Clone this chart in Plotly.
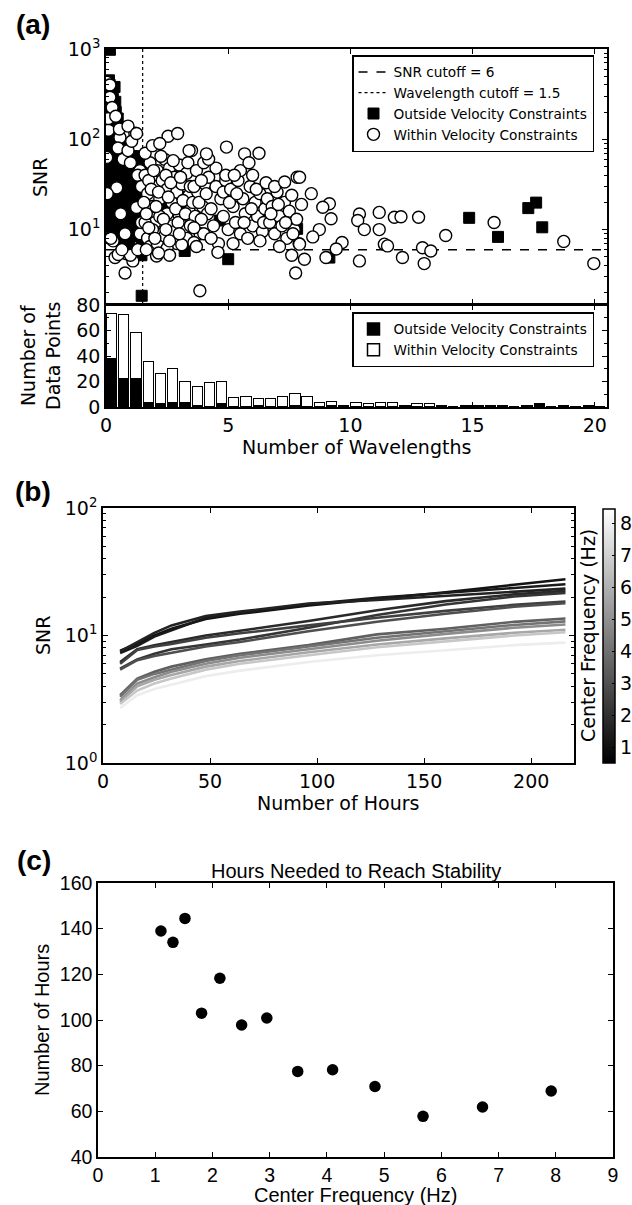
import plotly.graph_objects as go
from plotly.colors import sample_colorscale

# ---------------- Panel (a): scatter data ----------------
within_x = [
    # x < 1.5
    0.03, 0.16, 0.16, 0.10, 0.57, 0.49, 1.39, 0.44, 0.78, 0.29, 0.37, 0.78, 0.84, 1.10, 1.25,
    1.18, 0.03, 0.10, 0.25, 0.70, 0.90, 1.00, 1.30, 1.40, 0.55, 0.40, 1.05, 0.90, 1.25, 0.05,
    0.60, 1.45, 1.45, 0.50, 1.00, 1.30, 0.65, 0.20,
    # 1.5 - 3.5
    1.60, 1.70, 1.80, 1.90, 2.00, 2.00, 2.10, 2.20, 2.30, 2.30, 2.40, 2.50, 2.50, 2.60, 2.70,
    2.70, 2.80, 2.90, 2.90, 3.00, 3.00, 3.10, 3.20, 3.30, 3.40, 3.40, 3.50, 1.70, 1.80, 2.10,
    2.50, 2.60, 1.90, 2.20, 1.60, 2.40, 3.30, 3.50, 2.80, 2.54, 2.93, 3.40, 2.07, 3.84,
    1.55, 1.65, 1.75, 1.85, 1.95, 2.05, 2.15, 2.25, 2.35, 2.45, 2.55, 2.65, 2.75, 2.85, 2.95,
    3.05, 3.15, 3.25, 3.35, 3.45, 3.55, 3.65, 3.75, 3.85, 3.95, 4.05, 4.15, 1.60, 1.90, 2.20,
    2.00, 2.60, 3.10, 3.60, 1.75, 2.45, 3.00, 1.65, 2.15, 3.45,
    # 3.5 - 5
    3.60, 3.70, 3.80, 3.90, 4.00, 4.00, 4.10, 4.20, 4.30, 4.40, 4.50, 4.50, 4.60, 4.70, 4.80,
    4.90, 5.00, 4.90, 3.70, 4.30, 3.60, 4.80, 4.20, 3.90, 4.11, 4.93, 4.58,
    # 5 - 6.5
    5.10, 5.20, 5.30, 5.40, 5.50, 5.60, 5.70, 5.80, 5.90, 6.00, 6.10, 6.20, 6.30, 6.40, 6.50,
    5.50, 6.00, 5.20, 6.30, 5.67, 6.26, 5.05, 5.35, 5.65, 5.95, 6.15, 6.45, 5.25, 5.85, 6.55,
    # 6.5 - 8
    6.60, 6.70, 6.80, 6.90, 7.00, 7.10, 7.20, 7.30, 7.40, 7.50, 7.60, 7.70, 7.80, 7.90, 8.00,
    7.10, 6.90, 7.60, 7.31, 7.82, 7.76, 6.75, 7.05, 7.35, 7.65,
    # > 8
    7.92, 8.40, 9.14, 8.87, 9.21, 8.73, 8.46, 7.92, 8.12, 9.00, 9.66, 9.42, 10.37, 10.30, 10.57,
    11.18, 11.18, 11.39, 11.52, 10.37, 11.80, 12.07, 12.13, 12.79, 12.95, 13.29, 13.02, 13.90,
    15.88, 18.73, 19.96,
]
within_y = [
    430, 400, 292, 126, 105, 80, 45, 29, 9, 7.5, 4.9, 3.3, 5.4, 4.5, 17.6,
    117, 63, 170, 225, 60, 75, 55, 40, 9, 130, 180, 95, 140, 116, 25,
    15, 30, 12, 5.3, 5.2, 6, 6, 8,
    40, 25, 55, 18, 30, 12, 45, 22, 9, 35, 60, 15, 28, 48, 11,
    20, 38, 7, 26, 14, 52, 32, 10, 42, 24, 16, 75, 8, 6.5, 7,
    6.2, 5.2, 10, 14, 12, 8.5, 8, 12, 9.5, 108, 116, 75, 5.1, 2.1,
    20, 15, 35, 28, 45, 18, 26, 65, 13, 40, 23, 33, 58, 17, 12,
    38, 21, 15, 55, 30, 20, 14, 26, 9, 18, 32, 15, 70, 85, 90,
    8, 7.5, 6.8, 7.2, 10.5, 10, 9, 6, 5.5, 11,
    30, 45, 20, 13, 55, 9, 25, 38, 17, 11, 30, 48, 7, 22, 14,
    35, 10, 40, 6.5, 8, 10.5, 26, 60, 35, 69, 82, 5.6,
    28, 18, 12, 35, 9, 22, 15, 8, 30, 11, 20, 14, 25, 9.5, 17,
    45, 40, 7, 7.5, 69, 70, 20, 25, 12, 17, 28, 12, 40, 55, 33,
    22, 12, 18, 9, 26, 14, 11, 20, 8, 16, 24, 10, 13, 7, 19,
    6.5, 30, 5.2, 33.6, 38, 3.3, 15, 19, 12, 9,
    38, 25, 19.3, 17.7, 13.2, 10, 8.3, 6.9, 4.7, 4.9, 7.2, 6.1, 14.9, 12.6, 10,
    15.5, 10, 6.9, 6.6, 4.5, 13.7, 13.9, 4.9, 13.7, 6.3, 5.8, 4.2, 8.6,
    12, 7.4, 4.2,
]

outside_x = [
    0.16, 0.05, 0.15, 0.25, 0.35, 0.10, 0.20, 0.30, 0.40, 0.05, 0.15, 0.25, 0.35, 0.45, 0.05,
    0.15, 0.25, 0.35, 0.45, 0.55, 0.05, 0.15, 0.25, 0.35, 0.45, 0.55, 0.05, 0.15, 0.25, 0.35,
    0.50, 0.60, 0.65, 0.70, 0.75, 0.80, 0.85, 0.90, 0.95, 1.00, 1.05, 1.10, 1.14, 1.20, 1.25,
    1.30, 1.39, 1.39, 1.49, 1.49, 1.46, 1.46, 0.95, 0.68, 1.46, 1.10, 0.90, 1.40, 1.35,
    0.05, 0.05, 0.05, 0.05, 0.05, 0.12, 0.12, 0.12, 0.12, 0.12, 0.12,
    0.20, 0.20, 0.20, 0.20, 0.20, 0.28, 0.28, 0.28, 0.28, 0.28,
    0.38, 0.38, 0.38, 0.38, 0.38, 0.48, 0.48, 0.48, 0.48, 0.48, 0.58, 0.58, 0.58, 0.58,
    0.65, 0.65, 0.65, 0.65, 0.75, 0.75, 0.75, 0.75, 0.85, 0.85, 0.85, 0.85,
    0.95, 0.95, 0.95, 0.95, 1.05, 1.05, 1.05, 1.05, 1.15, 1.15, 1.15, 1.15,
    1.25, 1.25, 1.25, 1.25, 1.35, 1.35, 1.35, 1.35, 1.45, 1.45, 1.45, 1.45,
    3.22, 5.00, 4.65, 6.29, 7.82, 3.09, 2.97, 2.48, 2.70, 3.30, 9.14, 14.86, 16.04, 17.28,
    17.60, 17.85,
]
outside_y = [
    980, 420, 400, 350, 380, 300, 270, 230, 200, 180, 150, 130, 110, 100, 80,
    70, 60, 50, 45, 40, 35, 30, 25, 20, 16, 13, 15, 11, 9, 8,
    10, 25, 55, 35, 18, 45, 28, 12, 40, 22, 15, 50, 48, 60, 30,
    65, 58, 30, 22, 13, 9, 7, 20, 36, 1.85, 10, 8, 17, 40,
    250, 120, 55, 22, 11, 450, 320, 210, 95, 42, 19,
    380, 160, 85, 38, 14, 280, 190, 75, 33, 12,
    260, 140, 65, 28, 11, 170, 120, 55, 24, 9.5, 90, 30, 20, 12,
    70, 16, 10, 7, 60, 25, 12, 8, 50, 35, 18, 9,
    45, 28, 13, 6.5, 65, 38, 20, 11, 42, 26, 14, 8.5,
    55, 18, 12, 6, 48, 25, 10, 5.5, 42, 16, 11, 5.2,
    5.8, 4.7, 12.6, 13.1, 10.2, 21.9, 19.5, 18.5, 16, 23, 4.9, 13.5, 8.3, 17.3,
    19.9, 10.6,
]

SNR_CUTOFF = 6
WAVELENGTH_CUTOFF = 1.5

# ---------------- Panel (a): histogram data (bins of 0.5 wavelengths) ----------------
hist_outside = [38, 22, 22, 3, 2, 3, 3, 1, 0, 2,
                0, 0, 1, 0, 0, 1, 0, 0, 1, 0,
                0, 0, 0, 0, 0, 0, 0, 0, 0, 1,
                0, 0, 1, 0, 1, 2, 0, 0, 0, 0, 0]
hist_within = [35, 50, 36, 32, 24, 27, 17, 15, 19, 18,
               7, 8, 5, 6, 8, 9, 8, 3, 3, 1,
               3, 2, 3, 3, 1, 2, 2, 1, 0, 0,
               1, 1, 0, 0, 0, 0, 0, 1, 0, 1, 0]
BIN_W = 0.5
bin_centers = [BIN_W * i + BIN_W / 2 for i in range(len(hist_within))]

# ---------------- Panel (b): SNR vs hours ----------------
hours = [8, 16, 24, 32, 48, 64, 96, 128, 160, 192, 216]
line_freqs = [1.1, 1.3, 1.55, 1.8, 2.15, 2.5, 2.95, 3.5, 4.1, 4.85, 5.7, 6.7, 7.9]
snr_lines = [
    [7.6, 8.6, 10.0, 11.3, 13.5, 14.8, 17.2, 19.3, 21.8, 25.0, 27.6],
    [7.3, 8.3, 9.8, 11.0, 13.8, 15.0, 17.6, 19.8, 21.5, 23.6, 25.2],
    [7.5, 8.9, 10.5, 12.0, 14.2, 15.4, 17.8, 19.0, 20.4, 22.2, 23.3],
    [6.2, 7.8, 8.4, 8.9, 10.0, 10.9, 13.0, 15.8, 18.6, 21.0, 22.4],
    [5.5, 6.5, 7.2, 7.8, 8.5, 9.3, 11.5, 14.5, 17.5, 20.2, 21.6],
    [6.0, 7.7, 8.2, 8.6, 9.6, 10.4, 12.0, 13.8, 15.6, 17.4, 18.5],
    [5.4, 6.4, 6.9, 7.3, 8.2, 8.9, 10.8, 12.8, 14.8, 16.8, 17.9],
    [3.4, 4.6, 5.2, 5.7, 6.5, 7.2, 8.4, 10.2, 11.3, 12.8, 13.6],
    [3.3, 4.5, 5.0, 5.4, 6.3, 7.0, 8.2, 9.6, 10.8, 12.1, 12.9],
    [3.1, 4.2, 4.7, 5.2, 6.0, 6.7, 7.8, 9.1, 10.3, 11.5, 12.2],
    [3.0, 4.0, 4.5, 4.9, 5.7, 6.3, 7.4, 8.5, 9.5, 10.5, 11.1],
    [2.9, 3.7, 4.2, 4.6, 5.4, 6.0, 7.0, 8.1, 9.0, 10.0, 10.6],
    [2.7, 3.4, 3.8, 4.1, 4.8, 5.3, 6.2, 7.0, 7.7, 8.4, 8.8],
]
CMIN, CMAX = 0.5, 8.45
colorbar_ticks = [1, 2, 3, 4, 5, 6, 7, 8]

# ---------------- Panel (c): hours to stability ----------------
center_freq = [1.1, 1.31, 1.52, 1.81, 2.13, 2.51, 2.95, 3.49, 4.1, 4.84, 5.68, 6.72, 7.92]
hours_needed = [139, 134, 144.5, 103, 118.3, 97.8, 100.9, 77.5, 78.2, 70.9, 57.8, 61.9, 68.9]

# ---------------- figure ----------------
W, H = 632, 1205
def dx(px):
    return px / W
def dy(py):
    return 1 - py / H

DV = "DejaVu Sans"
AR = "Liberation Sans, Arial"
FS = 19      # tick / axis text size, panels a-b
FSC = 19.5   # panel c text size
LFS = 13.7   # legend text size
gray_scale = [[0, "rgb(0,0,0)"], [1, "rgb(255,255,255)"]]

fig = go.Figure()

# panel a scatter
fig.add_trace(go.Scatter(x=[0, 20.5], y=[SNR_CUTOFF, SNR_CUTOFF], mode="lines",
                         line=dict(color="black", dash="dash", width=1.5),
                         name="SNR cutoff = 6", xaxis="x", yaxis="y", legend="legend"))
fig.add_trace(go.Scatter(x=[WAVELENGTH_CUTOFF, WAVELENGTH_CUTOFF], y=[1.5, 1000], mode="lines",
                         line=dict(color="black", dash="dot", width=1.2),
                         name="Wavelength cutoff = 1.5", xaxis="x", yaxis="y", legend="legend"))
fig.add_trace(go.Scatter(x=outside_x, y=outside_y, mode="markers",
                         marker=dict(symbol="square", size=11, color="black",
                                     line=dict(color="black", width=1)),
                         name="Outside Velocity Constraints", xaxis="x", yaxis="y", legend="legend"))
fig.add_trace(go.Scatter(x=within_x, y=within_y, mode="markers",
                         marker=dict(symbol="circle", size=12, color="white",
                                     line=dict(color="black", width=1.4)),
                         name="Within Velocity Constraints", xaxis="x", yaxis="y", legend="legend"))

# panel a histogram
fig.add_trace(go.Bar(x=bin_centers, y=hist_outside, width=0.42,
                     marker=dict(color="black", line=dict(color="black", width=1.5)),
                     name="Outside Velocity Constraints", xaxis="x2", yaxis="y2", legend="legend2"))
fig.add_trace(go.Bar(x=bin_centers, y=hist_within, width=0.42,
                     marker=dict(color="white", line=dict(color="black", width=1.5)),
                     name="Within Velocity Constraints", xaxis="x2", yaxis="y2", legend="legend2"))

# panel b lines
line_colors = sample_colorscale(gray_scale, [(f - CMIN) / (CMAX - CMIN) for f in line_freqs])
for f, vals, c in zip(line_freqs, snr_lines, line_colors):
    fig.add_trace(go.Scatter(x=hours, y=vals, mode="lines", line=dict(color=c, width=2.6),
                             showlegend=False, xaxis="x3", yaxis="y3", name=f"{f} Hz"))
fig.add_trace(go.Scatter(x=[hours[0]] * len(line_freqs), y=[snr_lines[-1][0]] * len(line_freqs),
                         mode="markers", showlegend=False, hoverinfo="skip",
                         marker=dict(color=line_freqs, colorscale=gray_scale, cmin=CMIN, cmax=CMAX,
                                     opacity=0, size=1, showscale=True,
                                     colorbar=dict(x=dx(603), xanchor="left", xpad=0,
                                                   y=dy(763), yanchor="bottom", ypad=0,
                                                   len=254 / H, lenmode="fraction",
                                                   thickness=12, thicknessmode="pixels",
                                                   outlinewidth=1.5, outlinecolor="black",
                                                   tickvals=colorbar_ticks, ticks="inside",
                                                   ticklen=3, tickcolor="black",
                                                   ticklabeloverflow="allow",
                                                   tickfont=dict(family=DV, size=FS, color="black"))),
                         xaxis="x3", yaxis="y3"))

# panel c scatter
fig.add_trace(go.Scatter(x=center_freq, y=hours_needed, mode="markers",
                         marker=dict(size=11.5, color="black"), showlegend=False,
                         xaxis="x4", yaxis="y4"))

axis_common = dict(showline=True, linecolor="black", linewidth=1.5, mirror="ticks",
                   ticks="inside", ticklen=5, tickcolor="black", tickwidth=1,
                   showgrid=False, zeroline=False, automargin=False)
minor_log_a = [m * 10 ** e for e in range(0, 3) for m in range(2, 10)]
minor_log_b = [m * 10 ** e for e in range(0, 2) for m in range(2, 10)]

fig.update_layout(
    width=W, height=H, margin=dict(l=0, r=0, t=0, b=0, autoexpand=False),
    paper_bgcolor="white", plot_bgcolor="white",
    font=dict(family=DV, size=FS, color="black"),
    barmode="stack", bargap=0,
    xaxis=dict(domain=[dx(106), dx(607)], anchor="y", range=[0, 20.5],
               tickvals=[0, 5, 10, 15, 20], showticklabels=False, **axis_common),
    yaxis=dict(domain=[dy(304), dy(49)], anchor="x", type="log", range=[0.176, 3],
               tickvals=[1, 10, 100, 1000],
               ticktext=["10<sup>0</sup>", "10<sup>1</sup>", "10<sup>2</sup>", "10<sup>3</sup>"],
               tickfont=dict(family=DV, size=FS),
               minor=dict(tickvals=minor_log_a, ticks="inside", ticklen=3, tickcolor="black"),
               **axis_common),
    xaxis2=dict(domain=[dx(106), dx(607)], anchor="y2", range=[0, 20.5],
                tickvals=[0, 5, 10, 15, 20], tickfont=dict(family=DV, size=FS), **axis_common),
    yaxis2=dict(domain=[dy(407), dy(305)], anchor="x2", range=[0, 80],
                tickvals=[0, 20, 40, 60, 80], tickfont=dict(family=DV, size=FS),
                minor=dict(dtick=10, ticks="inside", ticklen=3, tickcolor="black"),
                **axis_common),
    xaxis3=dict(domain=[dx(103), dx(574)], anchor="y3", range=[0, 220],
                tickvals=[0, 50, 100, 150, 200], tickfont=dict(family=DV, size=FS), **axis_common),
    yaxis3=dict(domain=[dy(763), dy(508)], anchor="x3", type="log", range=[0, 2],
                tickvals=[1, 10, 100],
                ticktext=["10<sup>0</sup>", "10<sup>1</sup>", "10<sup>2</sup>"],
                tickfont=dict(family=DV, size=FS),
                minor=dict(tickvals=minor_log_b, ticks="inside", ticklen=3, tickcolor="black"),
                **axis_common),
    xaxis4=dict(domain=[dx(98), dx(613)], anchor="y4", range=[0, 9], dtick=1,
                tickfont=dict(family=AR, size=FSC), **axis_common),
    yaxis4=dict(domain=[dy(1157), dy(883)], anchor="x4", range=[40, 160], dtick=20,
                tickfont=dict(family=AR, size=FSC), **axis_common),
    legend=dict(x=dx(352), y=dy(55), xanchor="left", yanchor="top",
                bgcolor="white", bordercolor="black", borderwidth=1.5,
                font=dict(family=DV, size=LFS), tracegroupgap=0, itemwidth=30),
    legend2=dict(x=dx(352), y=dy(312), xanchor="left", yanchor="top", traceorder="normal",
                 bgcolor="white", bordercolor="black", borderwidth=1.5,
                 font=dict(family=DV, size=LFS), tracegroupgap=0, itemwidth=30),
)

ann = []
def add_text(text, x, y, size, family=DV, angle=0, bold=False):
    ann.append(dict(text=f"<b>{text}</b>" if bold else text, x=dx(x), y=dy(y),
                    xref="paper", yref="paper", showarrow=False, textangle=angle,
                    xanchor="center", yanchor="middle",
                    font=dict(family=family, size=size, color="black")))

add_text("(a)", 33, 24, 28, family=AR, bold=True)
add_text("(b)", 33, 491, 28, family=AR, bold=True)
add_text("(c)", 34, 860, 28, family=AR, bold=True)
add_text("SNR", 40, 178, FS, angle=-90)
add_text("Number of<br>Data Points", 40, 356, FS, angle=-90)
add_text("Number of Wavelengths", 356, 447, FS)
add_text("SNR", 43, 636, FS, angle=-90)
add_text("Number of Hours", 338, 803, FS)
add_text("Center Frequency (Hz)", 588, 636, FS, angle=-90)
add_text("Hours Needed to Reach Stability", 356, 871, 20, family=AR)
add_text("Number of Hours", 42, 1020, 20, family=AR, angle=-90)
add_text("Center Frequency (Hz)", 355, 1195, 20, family=AR)
fig.update_layout(annotations=ann)

fig.write_html("out.html", config={"displayModeBar": False},
               post_script="document.body.style.margin='0px';document.body.style.padding='0px';")
